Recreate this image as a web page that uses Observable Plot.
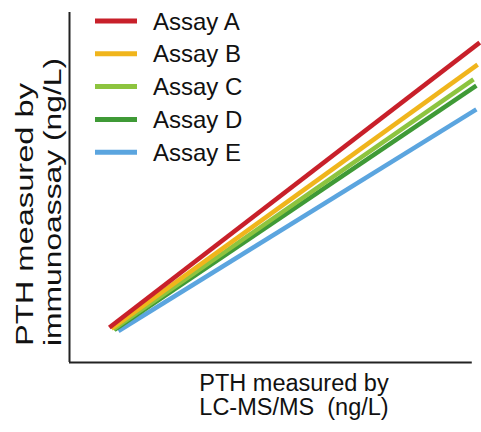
<!DOCTYPE html>
<html>
<head>
<meta charset="utf-8">
<script src="https://cdn.jsdelivr.net/npm/d3@7"></script>
<script src="https://cdn.jsdelivr.net/npm/@observablehq/plot@0.6"></script>
<style>
  html, body { margin: 0; padding: 0; background: #fff; }
  #chart svg { display: block; }
</style>
</head>
<body>
<div id="chart"></div>
<script>
// Data (arbitrary units, 0–100 on both axes)
const assays = ["Assay A", "Assay B", "Assay C", "Assay D", "Assay E"];
const colors = ["#c8202a", "#f0b51c", "#8dc43f", "#3f9a36", "#5ba5df"];
const xStart = [9.7, 10.2, 10.7, 10.9, 11.9];
const yStart = [10.0, 9.7, 9.5, 9.3, 9.0];
const xEnd   = [99.8, 99.3, 98.3, 99.0, 99.0];
const yEnd   = [91.4, 85.1, 80.9, 79.1, 72.3];
const xLabel = ["PTH measured by", "LC-MS/MS  (ng/L)"];
const yLabel = ["PTH measured by", "immunoassay (ng/L)"];

const rows = assays.map((a, i) => ({
  assay: a, x1: xStart[i], y1: yStart[i], x2: xEnd[i], y2: yEnd[i]
}));
const drawOrder = rows.slice().reverse();

const plot = Plot.plot({
  width: 481,
  height: 432,
  marginLeft: 69,
  marginRight: 1,
  marginTop: 12,
  marginBottom: 70,
  x: { domain: [0, 100], axis: null },
  y: { domain: [0, 100], axis: null },
  color: { domain: assays, range: colors },
  style: { fontFamily: "'Liberation Sans', Arial, Helvetica, sans-serif", background: "#fff" },
  marks: [
    Plot.link(drawOrder, {
      x1: "x1", y1: "y1", x2: "x2", y2: "y2",
      stroke: "assay", strokeWidth: 4.5, strokeLinecap: "butt"
    }),
    Plot.ruleX([0], { stroke: "#222", strokeWidth: 2 }),
    Plot.ruleY([0], { x1: 0, x2: 98, stroke: "#222", strokeWidth: 2 })
  ]
});

const svg = d3.select(plot);
const font = "'Liberation Sans', Arial, Helvetica, sans-serif";

// Legend (inside the plot area, top-left)
const leg = svg.append("g").attr("class", "legend").attr("text-anchor", "start");
assays.forEach((a, i) => {
  const cy = 21 + i * 32.8;
  leg.append("line")
    .attr("x1", 95).attr("x2", 137)
    .attr("y1", cy).attr("y2", cy)
    .attr("stroke", colors[i]).attr("stroke-width", 5);
  leg.append("text")
    .attr("x", 153).attr("y", cy + 8.5)
    .attr("text-anchor", "start")
    .attr("font-family", font).attr("font-size", 24)
    .attr("fill", "#111")
    .text(a);
});

// X axis label (two lines, centered)
xLabel.forEach((t, i) => {
  svg.append("text")
    .attr("x", 294).attr("y", 391 + i * 23.5)
    .attr("text-anchor", "middle")
    .attr("font-family", font).attr("font-size", 23.5)
    .attr("fill", "#111")
    .style("white-space", "pre")
    .attr("xml:space", "preserve")
    .text(t);
});

// Y axis label (rotated, two lines, stretched along the text)
const yLens = [263, 288];
yLabel.forEach((t, i) => {
  svg.append("text")
    .attr("transform", `translate(${33 + i * 28},346) rotate(-90)`)
    .attr("text-anchor", "start")
    .attr("font-family", font).attr("font-size", 23)
    .attr("fill", "#111")
    .attr("textLength", yLens[i])
    .attr("lengthAdjust", "spacingAndGlyphs")
    .text(t);
});

document.getElementById("chart").appendChild(plot);
</script>
</body>
</html>
